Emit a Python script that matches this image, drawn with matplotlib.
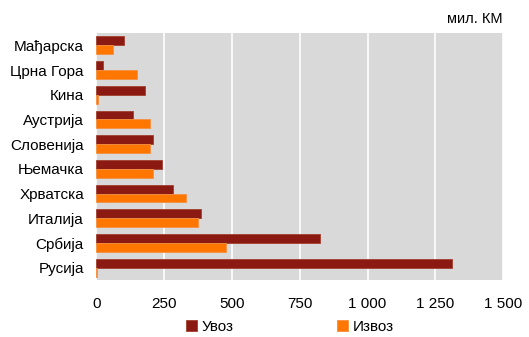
import matplotlib
matplotlib.use("Agg")
import matplotlib.pyplot as plt
import numpy as np
from matplotlib.ticker import FuncFormatter

# Data (mil. KM)
countries = ["Мађарска", "Црна Гора", "Кина", "Аустрија", "Словенија",
             "Њемачка", "Хрватска", "Италија", "Србија", "Русија"]
imports = [102, 24, 178, 134, 207, 240, 283, 386, 823, 1310]
exports = [61, 150, 4, 199, 199, 209, 332, 373, 479, 3]

plt.rcParams["font.family"] = ["Liberation Sans", "DejaVu Sans"]

fig = plt.figure(figsize=(5.29, 3.37), dpi=100)
ax = fig.add_axes([0.1824, 0.169, 0.7686, 0.733])

y = np.arange(len(countries))
h = 0.36
ax.barh(y - h / 2, imports, height=h, color="#8b1a12", edgecolor="#a04030",
        linewidth=0.6, label="Увоз", zorder=3)
ax.barh(y + h / 2, exports, height=h, color="#ff7700", edgecolor="#f59040",
        linewidth=0.6, label="Извоз", zorder=3)

ax.set_ylim(len(countries) - 0.5, -0.5)
ax.set_xlim(0, 1500)
ax.set_xticks([0, 250, 500, 750, 1000, 1250, 1500])
ax.xaxis.set_major_formatter(FuncFormatter(lambda v, p: f"{int(v):,}".replace(",", " ")))
ax.set_yticks(y)
ax.set_yticklabels(countries)
ax.set_facecolor("#d9d9d9")
ax.grid(axis="x", color="white", linewidth=1.2, zorder=1)
ax.set_axisbelow(True)
for s in ax.spines.values():
    s.set_visible(False)
ax.tick_params(length=0, labelsize=11, colors="black")
ax.tick_params(axis="x", pad=12)
ax.tick_params(axis="y", pad=9)

fig.text(0.951, 0.945, "мил. КМ", ha="right", va="center", fontsize=10.5)

leg = fig.legend(loc="center", bbox_to_anchor=(0.548, 0.03), ncol=2, frameon=False,
                 fontsize=11, handlelength=0.7, handleheight=0.7,
                 handletextpad=0.3, columnspacing=6.8)

fig.savefig("out.png", dpi=100)
